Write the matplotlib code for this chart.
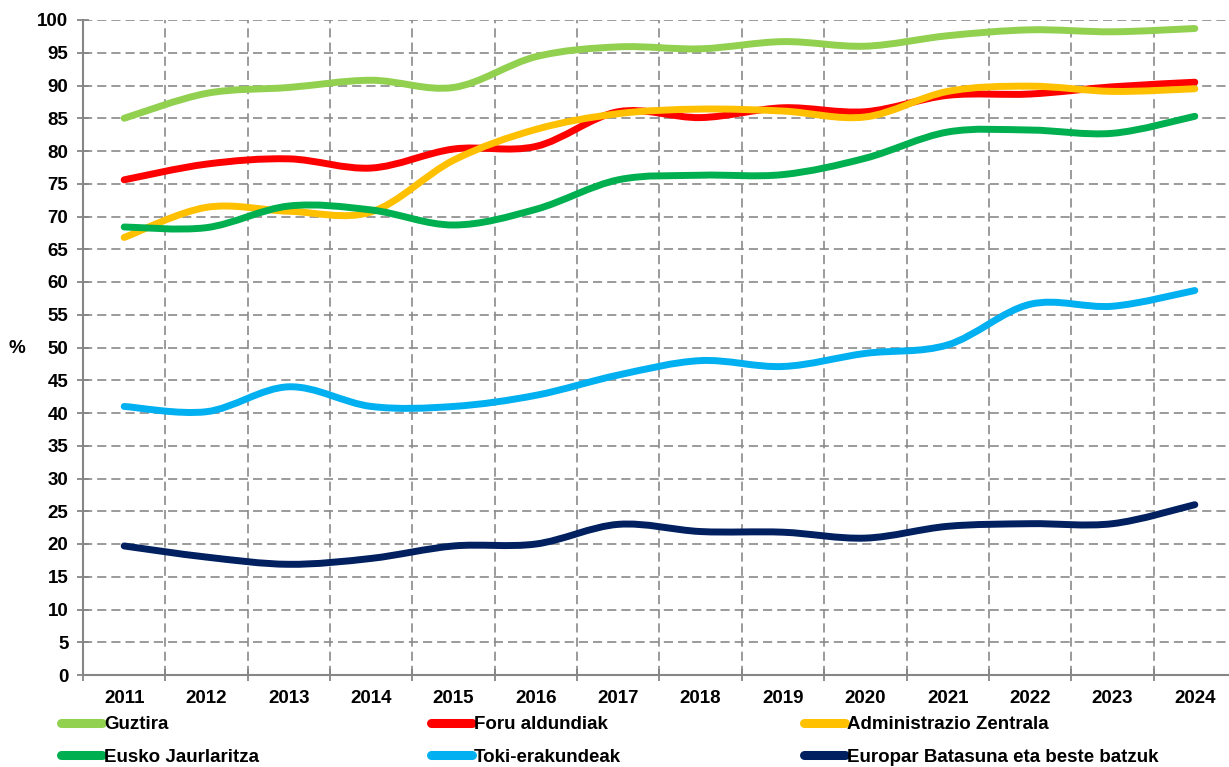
import numpy as np
import matplotlib
matplotlib.use("Agg")
import matplotlib.pyplot as plt
from matplotlib.path import Path
from matplotlib.patches import PathPatch
from matplotlib.lines import Line2D

plt.rcParams['font.family'] = ['Liberation Sans', 'DejaVu Sans']
plt.rcParams['font.weight'] = 'bold'

years = ["2011", "2012", "2013", "2014", "2015", "2016", "2017",
         "2018", "2019", "2020", "2021", "2022", "2023", "2024"]

guztira = [85.0, 88.8, 89.7, 90.8, 89.7, 94.4, 95.9, 95.6, 96.7, 96.0, 97.6, 98.5, 98.2, 98.7]
foru = [75.6, 78.0, 78.8, 77.4, 80.3, 80.7, 86.0, 85.1, 86.6, 86.0, 88.5, 88.7, 89.8, 90.5]
admin = [66.8, 71.4, 70.8, 70.7, 78.6, 83.3, 85.7, 86.4, 86.1, 85.2, 89.1, 89.9, 89.1, 89.5]
eusko = [68.4, 68.3, 71.6, 71.0, 68.7, 71.1, 75.6, 76.3, 76.4, 78.9, 82.9, 83.2, 82.7, 85.3]
toki = [41.0, 40.2, 44.0, 41.0, 41.0, 42.7, 45.8, 48.0, 47.1, 49.1, 50.4, 56.6, 56.3, 58.7]
europar = [19.7, 18.0, 16.9, 17.8, 19.7, 20.0, 23.0, 21.9, 21.8, 20.9, 22.7, 23.1, 23.1, 26.0]

labels = ["Guztira", "Foru aldundiak", "Administrazio Zentrala",
          "Eusko Jaurlaritza", "Toki-erakundeak", "Europar Batasuna eta beste batzuk"]
colors = ["#92D050", "#FF0000", "#FFC000", "#00B050", "#00B0F0", "#002060"]
series = [guztira, foru, admin, eusko, toki, europar]


def smooth_path(xs, ys):
    # excel-like smoothed line: cubic bezier between points (catmull-rom control points)
    pts = np.column_stack([xs, ys]).astype(float)
    n = len(pts)
    verts = [pts[0]]
    codes = [Path.MOVETO]
    for i in range(n - 1):
        p0 = pts[i - 1] if i > 0 else pts[i]
        p1 = pts[i]
        p2 = pts[i + 1]
        p3 = pts[i + 2] if i + 2 < n else pts[i + 1]
        c1 = p1 + (p2 - p0) / 6.0
        c2 = p2 - (p3 - p1) / 6.0
        verts += [c1, c2, p2]
        codes += [Path.CURVE4] * 3
    return Path(verts, codes)


W, H = 1229, 767
fig = plt.figure(figsize=(W / 100, H / 100), dpi=100)
ax = fig.add_axes([83 / W, 92 / H, 1153 / W, 655 / H])

x = np.arange(len(years))
for vals, col in zip(series, colors):
    patch = PathPatch(smooth_path(x, vals), facecolor="none", edgecolor=col,
                      lw=5, capstyle="round", joinstyle="round", zorder=3)
    ax.add_patch(patch)

ax.set_xlim(-0.5, len(years) - 0.5)
ax.set_ylim(0, 100)
ax.set_yticks(np.arange(0, 101, 5))
ax.set_xticks(x)
ax.set_xticklabels(years)
ax.set_xticks(np.arange(-0.5, len(years), 1), minor=True)

ax.tick_params(axis="y", direction="inout", length=9, width=1.3, color="#868686",
               labelsize=13.5, pad=6)
ax.tick_params(axis="x", which="major", length=0, labelsize=13.5, pad=11)
ax.tick_params(axis="x", which="minor", direction="inout", length=8, width=1.3, color="#868686")

gridkw = dict(color="#8a8a8a", lw=1.2, linestyle=(0, (5.5, 3)))
ax.grid(axis="y", which="major", **gridkw)
ax.grid(axis="x", which="minor", **gridkw)
ax.set_axisbelow(True)

for s in ["top", "right"]:
    ax.spines[s].set_visible(False)
for s in ["left", "bottom"]:
    ax.spines[s].set_color("#868686")
    ax.spines[s].set_linewidth(1.5)
    ax.spines[s].set_zorder(2)

fig.text(17 / W, 1 - 349 / H, "%", ha="center", va="center", fontsize=13.5, fontweight="bold")

# legend: three columns of two entries
col_x = [61, 431, 804]
for c in range(3):
    handles = []
    for idx in (c, c + 3):
        handles.append(Line2D([0], [0], color=colors[idx], lw=6.5, solid_capstyle="round",
                              label=labels[idx]))
    fig.legend(handles=handles, loc="upper left", bbox_to_anchor=(col_x[c] / W, 1 - 716 / H),
               frameon=False, fontsize=13.5, handlelength=2.2, handletextpad=0.1,
               borderpad=0, borderaxespad=0, labelspacing=0.83)

fig.savefig("out.png", dpi=100)
